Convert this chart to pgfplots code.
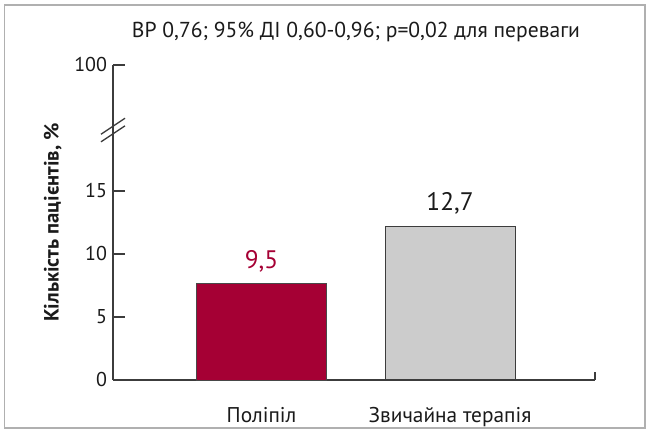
\documentclass[border=0pt]{standalone}
\usepackage{fontspec}
\setmainfont{PT Sans}
\usepackage{pgfplots}
\pgfplotsset{compat=1.18}
\definecolor{polred}{HTML}{A50034}
\definecolor{lgray}{HTML}{CCCCCC}
\definecolor{txt}{HTML}{1A1A1A}
\definecolor{frame}{HTML}{B0B0B0}
\begin{document}
\begin{tikzpicture}[x=0.75pt,y=0.75pt]
\path[use as bounding box] (0,0) rectangle (653,434);
\draw[frame, line width=1.2pt] (4.5,6) rectangle (645,429);
\begin{axis}[
  at={(84.75pt,40.5pt)}, anchor=south west,
  scale only axis, width=361.5pt, height=236.25pt,
  xmin=-0.788, xmax=1.769, ymin=0, ymax=25,
  axis x line=bottom, axis y line=left,
  axis line style={-, txt!85, line width=0.9pt},
  ytick={0,5,10,15,25}, yticklabels={0,5,10,15,100},
  xtick={0,1}, xticklabels={Поліпіл, Звичайна терапія},
  tick style={txt!85, line width=0.9pt},
  major tick length=9pt,
  ytick pos=left, tick align=inside,
  xtick style={draw=none},
  /pgf/number format/assume math mode=true,
  ticklabel style={font=\fontsize{15}{17}\selectfont, text=txt},
  yticklabel style={xshift=-1pt},
  xticklabel style={yshift=-8pt, font=\fontsize{16}{18}\selectfont},
  ylabel={\bfseries Кількість пацієнтів, \%},
  ylabel style={font=\fontsize{15.5}{18}\selectfont, text=txt, yshift=2.5pt},
  ybar, bar width=97.5pt, bar shift=0pt,
  clip=false,
  nodes near coords={\pgfplotspointmeta},
  point meta=explicit symbolic,
  every node near coord/.append style={font=\fontsize{19}{22}\selectfont, anchor=south, yshift=5pt},
]
\addplot[fill=polred, draw=txt!80, line width=0.6pt, every node near coord/.append style={text=polred}]
  table[meta=lab] {
x y lab
0 7.67 {9,5}
};
\addplot[fill=lgray, draw=txt!85, line width=0.8pt, every node near coord/.append style={text=txt}]
  table[meta=lab] {
x y lab
1 12.2 {12,7}
};
% x-axis right end tick
\draw[txt!85, line width=0.9pt] (rel axis cs:1,0) -- ([yshift=6pt]rel axis cs:1,0);
% axis break marks
\draw[txt!85, line width=1pt] ([xshift=-9pt,yshift=-8pt]axis cs:-0.788,20.35) -- ([xshift=9pt,yshift=4pt]axis cs:-0.788,20.35);
\draw[txt!85, line width=1pt] ([xshift=-9pt,yshift=-8pt]axis cs:-0.788,19.75) -- ([xshift=9pt,yshift=4pt]axis cs:-0.788,19.75);
\end{axis}
\node[font=\fontsize{16.2}{19}\selectfont, text=txt] at (356,402) {ВР 0,76; 95\% ДІ 0,60-0,96; p=0,02 для переваги};
\end{tikzpicture}
\end{document}
